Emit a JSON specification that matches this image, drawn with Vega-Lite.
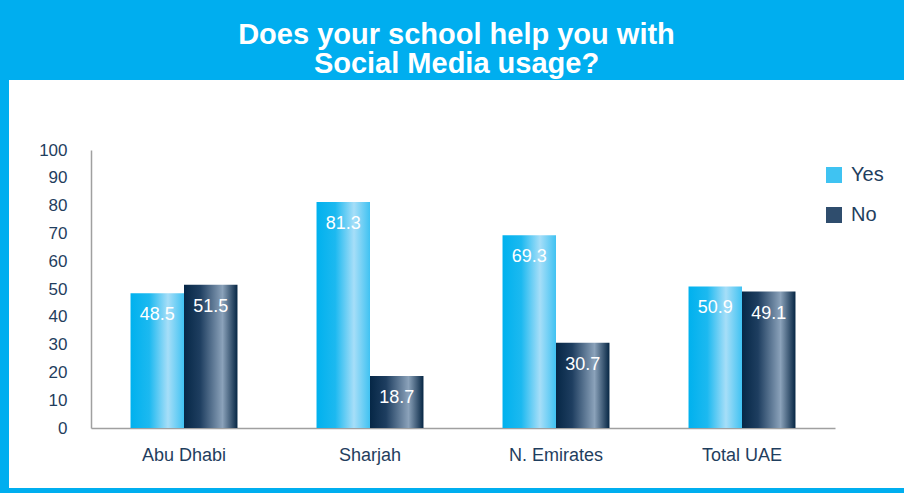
{
  "$schema": "https://vega.github.io/schema/vega-lite/v6.json",
  "width": 895,
  "height": 408,
  "autosize": "none",
  "padding": {"left": 9, "top": 80, "right": 0, "bottom": 5},
  "background": "#00AEEF",
  "view": {"fill": "#ffffff", "stroke": null},
  "config": {"font": "Liberation Sans"},
  "title": {
    "text": ["Does your school help you with", "Social Media usage?"],
    "color": "#ffffff",
    "fontSize": 29,
    "fontWeight": "bold",
    "lineHeight": 29,
    "offset": 1,
    "anchor": "middle"
  },
  "data": {
    "values": [
      {"region": "Abu Dhabi", "answer": "Yes", "value": 48.5},
      {"region": "Abu Dhabi", "answer": "No", "value": 51.5},
      {"region": "Sharjah", "answer": "Yes", "value": 81.3},
      {"region": "Sharjah", "answer": "No", "value": 18.7},
      {"region": "N. Emirates", "answer": "Yes", "value": 69.3},
      {"region": "N. Emirates", "answer": "No", "value": 30.7},
      {"region": "Total UAE", "answer": "Yes", "value": 50.9},
      {"region": "Total UAE", "answer": "No", "value": 49.1}
    ]
  },
  "encoding": {
    "x": {
      "field": "region",
      "type": "nominal",
      "sort": ["Abu Dhabi", "Sharjah", "N. Emirates", "Total UAE"],
      "scale": {"range": [82, 826], "paddingInner": 0.425, "paddingOuter": 0.2125},
      "axis": {
        "title": null,
        "offset": -60,
        "labelAngle": 0,
        "labelPadding": 18,
        "labelFontSize": 18,
        "labelColor": "#1F3E5E",
        "ticks": false,
        "domainColor": "#A0A0A0",
        "domainWidth": 1.5,
        "grid": false
      }
    },
    "xOffset": {
      "field": "answer",
      "type": "nominal",
      "sort": ["Yes", "No"],
      "scale": {"paddingInner": 0, "paddingOuter": 0}
    },
    "y": {
      "field": "value",
      "type": "quantitative",
      "scale": {"domain": [0, 100], "range": [348, 70]},
      "axis": {
        "title": null,
        "offset": -82,
        "values": [0, 10, 20, 30, 40, 50, 60, 70, 80, 90, 100],
        "labelPadding": 24,
        "labelFontSize": 17,
        "labelColor": "#1F3E5E",
        "ticks": false,
        "domainColor": "#A0A0A0",
        "domainWidth": 1.5,
        "grid": false
      }
    }
  },
  "layer": [
    {
      "transform": [{"filter": "datum.answer === 'Yes'"}],
      "mark": {
        "type": "bar",
        "color": {"gradient": "linear", "x1": 0, "x2": 1, "y1": 0, "y2": 0, "stops": [
          {"offset": 0, "color": "#00B1EE"},
          {"offset": 0.35, "color": "#1CB9F0"},
          {"offset": 0.7, "color": "#A6DEF8"},
          {"offset": 1, "color": "#40C2F2"}
        ]}
      }
    },
    {
      "transform": [{"filter": "datum.answer === 'No'"}],
      "mark": {
        "type": "bar",
        "color": {"gradient": "linear", "x1": 0, "x2": 1, "y1": 0, "y2": 0, "stops": [
          {"offset": 0, "color": "#062746"},
          {"offset": 0.3, "color": "#1E3E60"},
          {"offset": 0.72, "color": "#8BA2BA"},
          {"offset": 1, "color": "#062644"}
        ]}
      }
    },
    {
      "mark": {"type": "bar", "opacity": 0},
      "encoding": {
        "color": {
          "field": "answer",
          "type": "nominal",
          "scale": {"domain": ["Yes", "No"], "range": ["#3FC3F2", "#2F4D6D"]},
          "legend": {
            "title": null,
            "orient": "none",
            "legendX": 815,
            "legendY": 85,
            "symbolType": "square",
            "symbolSize": 256,
            "symbolStrokeWidth": 0,
            "symbolOpacity": 1,
            "labelFontSize": 20,
            "labelColor": "#1F3E5E",
            "labelOffset": 7,
            "rowPadding": 20
          }
        }
      }
    },
    {
      "mark": {"type": "text", "color": "#ffffff", "fontSize": 18, "baseline": "middle", "dy": 22},
      "encoding": {
        "text": {"field": "value", "type": "quantitative", "format": ".1f"}
      }
    }
  ]
}
